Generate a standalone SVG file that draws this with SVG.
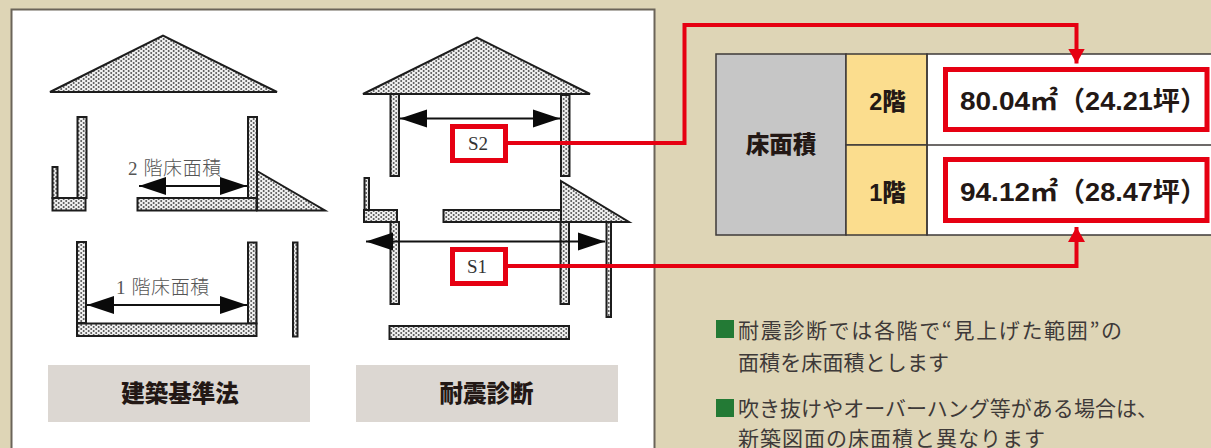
<svg xmlns="http://www.w3.org/2000/svg" width="1211" height="448" viewBox="0 0 1211 448">
<style>
.st{fill:url(#dots);stroke:#1c1c1c;stroke-width:2;stroke-linejoin:miter}
.arr{stroke:#111;stroke-width:2;fill:none;marker-start:url(#ah);marker-end:url(#ah)}
.red{fill:none;stroke:#e60012;stroke-width:4}
.cap{fill:#dcd7d2}
.capt{font:900 23.500px "Noto Sans CJK JP","Noto Sans CJK SC",sans-serif;fill:#231815;text-anchor:middle}
.jp{font:300 19px "Liberation Serif","Noto Sans CJK JP",serif;fill:#555;letter-spacing:.6px}
.s{font:19px "Liberation Serif",serif;fill:#333;text-anchor:middle}
.tb{font:900 23.500px "Liberation Sans","Noto Sans CJK JP",sans-serif;fill:#231815;text-anchor:middle}
.num{font:700 26.500px "Liberation Sans","Noto Sans CJK JP",sans-serif;fill:#231815}
.body{font:400 21px "Noto Sans CJK JP",sans-serif;fill:#3e3a39}
.box{fill:#fff;stroke:#e60012;stroke-width:5}
.cell{stroke:#3e3a39;stroke-width:1.5}
</style>
<defs>
<pattern id="dots" width="5" height="4" patternUnits="userSpaceOnUse">
<rect width="5" height="4" fill="#efefef"/>
<circle cx="1.200" cy="1" r="1" fill="#555"/>
<circle cx="3.700" cy="3" r="1" fill="#555"/>
</pattern>
<marker id="ah" markerUnits="userSpaceOnUse" markerWidth="28" markerHeight="20" refX="27" refY="10" orient="auto-start-reverse" viewBox="0 0 28 20">
<path d="M0,1L27,10L0,19Z" fill="#0a0a0a"/>
</marker>
<marker id="rh" markerUnits="userSpaceOnUse" markerWidth="16" markerHeight="18" refX="15" refY="9" orient="auto" viewBox="0 0 16 18">
<path d="M0,.5L15,9L0,17.500Z" fill="#e60012"/>
</marker>
</defs>
<rect width="1211" height="448" fill="#ded5b6"/>
<rect id="panel" x="11.500" y="9.500" width="643" height="445" fill="#fff" stroke="#6b6459" stroke-width="2"/>

<g id="standard-2f">
<path class="st" d="M50,92L163,35.500L277,92Z"/>
<rect class="st" x="77.500" y="117" width="9" height="81"/>
<rect class="st" x="52.500" y="167" width="5" height="31"/>
<rect class="st" x="52.500" y="198" width="33" height="12.500"/>
<path class="st" d="M257,171L325,210.500H257Z"/>
<rect class="st" x="248" y="117" width="9" height="81"/>
<rect class="st" x="137.500" y="198" width="119" height="12.500"/>
</g>
<g id="standard-1f">
<rect class="st" x="77" y="242" width="9" height="81"/>
<rect class="st" x="248" y="242.500" width="8.500" height="81"/>
<rect class="st" x="77" y="323.500" width="179.500" height="12.500"/>
<rect class="st" x="293" y="242.500" width="4.500" height="94"/>
</g>
<text class="jp" x="128" y="175">2 階床面積</text>
<text class="jp" x="116" y="294">1 階床面積</text>
<g id="caption-standard">
<rect class="cap" x="48" y="365" width="262" height="57"/>
<text class="capt" x="180" y="402">建築基準法</text>
</g>

<g id="seismic-2f">
<path class="st" d="M363,94L477,37.500L590,94Z"/>
<rect class="st" x="390.500" y="94" width="8.500" height="82"/>
<rect class="st" x="561" y="95" width="8.500" height="81"/>
<rect class="st" x="364.500" y="178" width="4.500" height="32"/>
<rect class="st" x="364" y="210" width="33" height="12"/>
<path class="st" d="M561,181L629,222H561Z"/>
<rect class="st" x="443.500" y="210" width="117.500" height="12"/>
</g>
<g id="seismic-1f">
<rect class="st" x="390.500" y="222" width="8.500" height="82"/>
<rect class="st" x="560.500" y="222" width="8.500" height="82"/>
<rect class="st" x="606.500" y="222" width="4.500" height="95"/>
<rect class="st" x="389.500" y="326" width="179.500" height="13"/>
</g>
<g id="caption-seismic">
<rect class="cap" x="356" y="365" width="262" height="57"/>
<text class="capt" x="486.500" y="402">耐震診断</text>
</g>

<g id="table">
<rect x="927" y="54" width="285" height="181" fill="#fff"/>
<rect class="cell" x="716" y="54" width="130" height="181" fill="#c6c6c6"/>
<rect class="cell" x="846" y="54" width="81" height="91" fill="#fbdd8e"/>
<rect class="cell" x="846" y="145" width="81" height="90" fill="#fbdd8e"/>
<path class="cell" fill="none" d="M1212,54H927V235H1212M927,145H1212"/>
<text class="tb" x="781" y="153">床面積</text>
<text class="tb" x="887.500" y="110">2階</text>
<text class="tb" x="887.500" y="201">1階</text>
</g>
<g id="value-2f">
<rect class="box" x="945.500" y="69.500" width="261.500" height="60"/>
<text class="num" x="960" y="110"><tspan textLength="98" lengthAdjust="spacingAndGlyphs">80.04㎡</tspan><tspan x="1058" textLength="149" lengthAdjust="spacingAndGlyphs">（24.21坪）</tspan></text>
</g>
<g id="value-1f">
<rect class="box" x="945.500" y="159.500" width="261.500" height="61"/>
<text class="num" x="960" y="201"><tspan textLength="98" lengthAdjust="spacingAndGlyphs">94.12㎡</tspan><tspan x="1058" textLength="149" lengthAdjust="spacingAndGlyphs">（28.47坪）</tspan></text>
</g>

<g id="s2">
<rect class="box" x="452.500" y="126.500" width="53" height="34"/>
<text class="s" x="478" y="150">S2</text>
</g>
<g id="s1">
<rect class="box" x="452.500" y="249.500" width="53" height="34"/>
<text class="s" x="477" y="273">S1</text>
</g>

<g id="connectors">
<line class="arr" x1="139" y1="186" x2="247" y2="186"/>
<line class="arr" x1="87" y1="305" x2="247" y2="305"/>
<line class="arr" x1="400" y1="118.500" x2="560" y2="118.500"/>
<line class="arr" x1="366" y1="241.500" x2="605" y2="241.500"/>
<path class="red" marker-end="url(#rh)" d="M508,143H684.500V25H1076.500V63.500"/>
<path class="red" marker-end="url(#rh)" d="M508,266H1076.500V227"/>
</g>

<g id="notes">
<rect x="716" y="320" width="18" height="18" fill="#237a35"/>
<text class="body" x="738" y="338" textLength="384">耐震診断では各階で“見上げた範囲”の</text>
<text class="body" x="738" y="370" textLength="211">面積を床面積とします</text>
<rect x="716" y="399" width="18" height="18" fill="#237a35"/>
<text class="body" x="738" y="416" textLength="420">吹き抜けやオーバーハング等がある場合は、</text>
<text class="body" x="738" y="446" textLength="307">新築図面の床面積と異なります</text>
</g>
</svg>
